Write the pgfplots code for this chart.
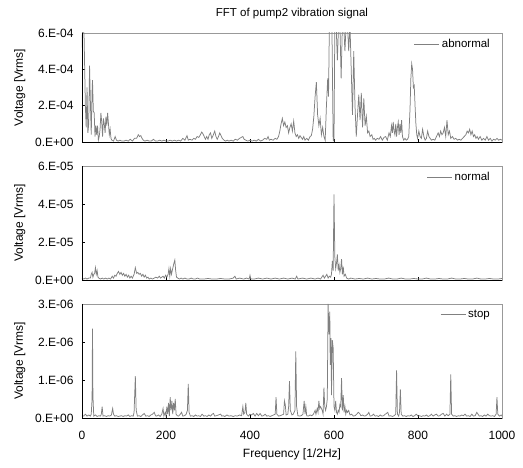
\documentclass[border=0pt]{standalone}
\usepackage{pgfplots}
\usepackage{pgfplotstable}
\pgfplotsset{compat=1.18}
\usepackage{fontspec}
\setmainfont{Liberation Sans}

\pgfplotstableread[row sep=\\]{
x y\\
0 5.2e-4\\ 2 6.8e-4\\ 5 5.8e-4\\ 8 2.0e-4\\ 10 0.8e-4\\ 12 3.0e-4\\ 14 0.5e-4\\ 16 1.0e-4\\ 18 4.2e-4\\ 20 2.2e-4\\
22 0.4e-4\\ 24 2.8e-4\\ 25 3.4e-4\\ 27 1.7e-4\\ 29 1.6e-4\\ 31 0.3e-4\\ 33 0.9e-4\\ 35 0.4e-4\\ 37 0.9e-4\\ 39 0.1e-4\\
41 0.3e-4\\ 43 0.7e-4\\ 45 1.6e-4\\ 47 1.1e-4\\ 49 0.3e-4\\ 51 1.3e-4\\ 53 1.0e-4\\ 55 0.5e-4\\ 57 1.4e-4\\ 59 0.9e-4\\
61 1.6e-4\\ 63 1.0e-4\\ 65 0.4e-4\\ 67 0.7e-4\\ 69 0.2e-4\\ 71 0.1e-4\\ 75 0.05e-4\\ 79 0.3e-4\\ 82 0.1e-4\\ 86 0.05e-4\\
90 0.1e-4\\ 95 0.05e-4\\ 100 0.05e-4\\ 105 0.1e-4\\ 110 0.05e-4\\ 115 0.15e-4\\ 120 0.05e-4\\ 125 0.2e-4\\ 130 0.2e-4\\ 134 0.4e-4\\
137 0.3e-4\\ 140 0.35e-4\\ 143 0.2e-4\\ 146 0.1e-4\\ 150 0.05e-4\\ 155 0.1e-4\\ 160 0.05e-4\\ 165 0.05e-4\\ 170 0.15e-4\\ 175 0.05e-4\\
180 0.05e-4\\ 185 0.1e-4\\ 190 0.05e-4\\ 195 0.1e-4\\ 200 0.05e-4\\ 205 0.05e-4\\ 210 0.1e-4\\ 215 0.05e-4\\ 220 0.1e-4\\ 225 0.05e-4\\
230 0.1e-4\\ 235 0.05e-4\\ 240 0.2e-4\\ 245 0.1e-4\\ 250 0.35e-4\\ 253 0.1e-4\\ 257 0.15e-4\\ 262 0.1e-4\\ 266 0.2e-4\\ 270 0.15e-4\\
274 0.3e-4\\ 278 0.25e-4\\ 282 0.4e-4\\ 285 0.55e-4\\ 288 0.45e-4\\ 291 0.3e-4\\ 294 0.15e-4\\ 297 0.3e-4\\ 300 0.15e-4\\ 303 0.4e-4\\
306 0.5e-4\\ 309 0.2e-4\\ 312 0.35e-4\\ 316 0.6e-4\\ 319 0.3e-4\\ 322 0.15e-4\\ 325 0.3e-4\\ 328 0.5e-4\\ 331 0.35e-4\\ 334 0.2e-4\\
338 0.1e-4\\ 342 0.05e-4\\ 346 0.1e-4\\ 350 0.05e-4\\ 355 0.1e-4\\ 360 0.05e-4\\ 365 0.15e-4\\ 370 0.1e-4\\ 375 0.2e-4\\ 379 0.25e-4\\
383 0.3e-4\\ 386 0.15e-4\\ 390 0.1e-4\\ 395 0.05e-4\\ 400 0.1e-4\\ 405 0.05e-4\\ 410 0.1e-4\\ 415 0.05e-4\\ 420 0.15e-4\\ 425 0.05e-4\\
430 0.1e-4\\ 435 0.2e-4\\ 440 0.15e-4\\ 443 0.3e-4\\ 446 0.1e-4\\ 450 0.15e-4\\ 455 0.1e-4\\ 460 0.2e-4\\ 464 0.15e-4\\ 468 0.3e-4\\
471 0.6e-4\\ 474 1.0e-4\\ 477 1.3e-4\\ 480 0.9e-4\\ 483 1.1e-4\\ 486 0.8e-4\\ 489 0.9e-4\\ 492 0.5e-4\\ 495 0.8e-4\\ 498 1.0e-4\\
501 0.6e-4\\ 504 1.15e-4\\ 507 0.5e-4\\ 510 0.3e-4\\ 513 0.4e-4\\ 516 0.2e-4\\ 519 0.35e-4\\ 522 0.25e-4\\ 525 0.15e-4\\ 528 0.3e-4\\
531 0.1e-4\\ 535 0.2e-4\\ 539 0.1e-4\\ 543 0.3e-4\\ 546 0.35e-4\\ 549 0.7e-4\\ 552 1.4e-4\\ 555 2.5e-4\\ 558 3.3e-4\\ 561 1.5e-4\\
564 0.9e-4\\ 567 1.3e-4\\ 570 0.4e-4\\ 573 0.8e-4\\ 576 0.3e-4\\ 579 0.1e-4\\ 582 2.0e-4\\ 585 3.5e-4\\ 587 2.5e-4\\ 589 6.5e-4\\
592 6.5e-4\\ 595 6.5e-4\\ 598 0.1e-4\\ 600 0.05e-4\\ 602 6.5e-4\\ 605 6.5e-4\\ 608 4.5e-4\\ 611 6.5e-4\\ 614 6.5e-4\\ 617 3.5e-4\\
620 6.5e-4\\ 623 6.5e-4\\ 626 5.0e-4\\ 629 6.5e-4\\ 632 6.5e-4\\ 635 5.0e-4\\ 638 6.5e-4\\ 641 4.0e-4\\ 644 1.5e-4\\ 647 5.0e-4\\
650 2.0e-4\\ 653 0.3e-4\\ 656 1.5e-4\\ 659 2.6e-4\\ 662 1.2e-4\\ 665 2.7e-4\\ 668 0.8e-4\\ 671 2.4e-4\\ 674 0.9e-4\\ 677 1.4e-4\\
680 0.5e-4\\ 683 0.6e-4\\ 686 0.3e-4\\ 690 0.4e-4\\ 693 0.15e-4\\ 696 0.2e-4\\ 699 0.1e-4\\ 703 0.2e-4\\ 707 0.15e-4\\ 711 0.3e-4\\
715 0.1e-4\\ 719 0.25e-4\\ 723 0.3e-4\\ 727 0.1e-4\\ 731 0.5e-4\\ 734 0.3e-4\\ 737 0.9e-4\\ 739 0.5e-4\\ 741 1.1e-4\\ 743 0.6e-4\\
745 0.4e-4\\ 747 1.0e-4\\ 749 0.3e-4\\ 751 0.8e-4\\ 753 1.1e-4\\ 755 0.4e-4\\ 757 1.0e-4\\ 759 0.5e-4\\ 761 1.2e-4\\ 763 0.3e-4\\
766 0.1e-4\\ 769 0.2e-4\\ 772 0.1e-4\\ 775 0.15e-4\\ 778 0.3e-4\\ 781 1.8e-4\\ 783 3.5e-4\\ 785 4.3e-4\\ 787 4.0e-4\\ 789 3.0e-4\\
791 3.1e-4\\ 793 2.0e-4\\ 795 1.0e-4\\ 797 0.4e-4\\ 799 0.2e-4\\ 802 0.6e-4\\ 805 0.3e-4\\ 808 0.2e-4\\ 811 0.7e-4\\ 814 0.3e-4\\
817 0.1e-4\\ 820 0.2e-4\\ 823 0.6e-4\\ 826 0.3e-4\\ 829 0.2e-4\\ 832 0.1e-4\\ 836 0.15e-4\\ 840 0.1e-4\\ 844 0.3e-4\\ 848 0.5e-4\\
851 0.3e-4\\ 854 0.6e-4\\ 857 0.4e-4\\ 860 0.5e-4\\ 863 0.8e-4\\ 866 0.3e-4\\ 869 1.2e-4\\ 872 0.4e-4\\ 875 0.6e-4\\ 878 0.2e-4\\
882 0.3e-4\\ 886 0.15e-4\\ 890 0.2e-4\\ 894 0.1e-4\\ 898 0.15e-4\\ 902 0.1e-4\\ 906 0.2e-4\\ 910 0.3e-4\\ 914 0.4e-4\\ 917 0.6e-4\\
920 0.5e-4\\ 923 0.7e-4\\ 926 0.4e-4\\ 929 0.6e-4\\ 932 0.3e-4\\ 935 0.4e-4\\ 938 0.2e-4\\ 941 0.3e-4\\ 944 0.15e-4\\ 948 0.3e-4\\
952 0.1e-4\\ 956 0.2e-4\\ 960 0.1e-4\\ 964 0.3e-4\\ 968 0.1e-4\\ 972 0.2e-4\\ 976 0.05e-4\\ 980 0.15e-4\\ 984 0.1e-4\\ 988 0.2e-4\\
992 0.1e-4\\ 996 0.15e-4\\ 1000 0.1e-4\\
}\abnormal

\pgfplotstableread[row sep=\\]{
x y\\
0 0.1e-5\\ 4 0.05e-5\\ 8 0.1e-5\\ 12 0.05e-5\\ 16 0.1e-5\\ 20 0.1e-5\\ 22 0.3e-5\\ 24 0.4e-5\\ 26 0.15e-5\\ 28 0.3e-5\\
30 0.35e-5\\ 32 0.65e-5\\ 34 0.3e-5\\ 36 0.5e-5\\ 38 0.15e-5\\ 40 0.1e-5\\ 44 0.05e-5\\ 48 0.1e-5\\ 52 0.05e-5\\ 56 0.1e-5\\
60 0.05e-5\\ 64 0.1e-5\\ 68 0.05e-5\\ 72 0.2e-5\\ 75 0.1e-5\\ 78 0.25e-5\\ 81 0.2e-5\\ 84 0.35e-5\\ 87 0.45e-5\\ 90 0.3e-5\\
93 0.4e-5\\ 96 0.25e-5\\ 99 0.35e-5\\ 102 0.2e-5\\ 105 0.3e-5\\ 108 0.15e-5\\ 111 0.25e-5\\ 114 0.1e-5\\ 117 0.2e-5\\ 120 0.1e-5\\
124 0.3e-5\\ 127 0.65e-5\\ 130 0.35e-5\\ 133 0.4e-5\\ 136 0.3e-5\\ 139 0.35e-5\\ 142 0.2e-5\\ 145 0.3e-5\\ 148 0.15e-5\\ 151 0.25e-5\\
154 0.1e-5\\ 157 0.15e-5\\ 160 0.05e-5\\ 164 0.1e-5\\ 168 0.05e-5\\ 172 0.1e-5\\ 176 0.15e-5\\ 180 0.1e-5\\ 184 0.2e-5\\ 187 0.1e-5\\
190 0.15e-5\\ 193 0.2e-5\\ 196 0.1e-5\\ 199 0.25e-5\\ 202 0.15e-5\\ 205 0.3e-5\\ 207 0.6e-5\\ 209 0.2e-5\\ 211 0.6e-5\\ 213 0.3e-5\\
215 0.5e-5\\ 217 0.7e-5\\ 219 0.9e-5\\ 221 1.05e-5\\ 223 0.5e-5\\ 225 0.15e-5\\ 228 0.1e-5\\ 232 0.05e-5\\ 236 0.1e-5\\ 240 0.05e-5\\
245 0.1e-5\\ 250 0.05e-5\\ 255 0.05e-5\\ 260 0.1e-5\\ 265 0.05e-5\\ 270 0.05e-5\\ 275 0.1e-5\\ 280 0.05e-5\\ 290 0.05e-5\\ 300 0.08e-5\\
310 0.05e-5\\ 320 0.05e-5\\ 330 0.08e-5\\ 340 0.05e-5\\ 350 0.05e-5\\ 360 0.1e-5\\ 364 0.2e-5\\ 367 0.05e-5\\ 375 0.1e-5\\ 385 0.05e-5\\
392 0.1e-5\\ 398 0.05e-5\\ 400 0.25e-5\\ 402 0.05e-5\\ 410 0.05e-5\\ 420 0.1e-5\\ 430 0.05e-5\\ 440 0.1e-5\\ 450 0.05e-5\\ 460 0.1e-5\\
470 0.05e-5\\ 480 0.1e-5\\ 490 0.05e-5\\ 500 0.1e-5\\ 508 0.05e-5\\ 511 0.2e-5\\ 514 0.05e-5\\ 525 0.1e-5\\ 535 0.05e-5\\ 545 0.1e-5\\
555 0.05e-5\\ 562 0.1e-5\\ 568 0.05e-5\\ 574 0.25e-5\\ 577 0.1e-5\\ 580 0.2e-5\\ 583 0.3e-5\\ 586 0.1e-5\\ 589 0.2e-5\\ 592 0.15e-5\\
594 0.3e-5\\ 596 1.0e-5\\ 598 0.5e-5\\ 600 4.5e-5\\ 602 1.2e-5\\ 604 0.6e-5\\ 606 0.9e-5\\ 608 1.35e-5\\ 610 0.5e-5\\ 612 0.8e-5\\
614 0.4e-5\\ 616 0.6e-5\\ 618 1.1e-5\\ 620 0.3e-5\\ 622 0.7e-5\\ 624 0.2e-5\\ 627 0.3e-5\\ 630 0.1e-5\\ 635 0.05e-5\\ 640 0.1e-5\\
650 0.05e-5\\ 660 0.08e-5\\ 670 0.05e-5\\ 680 0.1e-5\\ 690 0.05e-5\\ 700 0.08e-5\\ 710 0.05e-5\\ 720 0.05e-5\\ 730 0.1e-5\\ 740 0.05e-5\\
750 0.05e-5\\ 760 0.1e-5\\ 770 0.05e-5\\ 780 0.05e-5\\ 790 0.08e-5\\ 800 0.05e-5\\ 810 0.05e-5\\ 820 0.1e-5\\ 830 0.05e-5\\ 840 0.05e-5\\
850 0.08e-5\\ 860 0.05e-5\\ 870 0.05e-5\\ 880 0.1e-5\\ 890 0.05e-5\\ 900 0.05e-5\\ 910 0.08e-5\\ 920 0.05e-5\\ 930 0.05e-5\\ 940 0.1e-5\\
950 0.05e-5\\ 960 0.05e-5\\ 970 0.08e-5\\ 980 0.05e-5\\ 990 0.05e-5\\ 1000 0.08e-5\\
}\normal

\pgfplotstableread[row sep=\\]{
x y\\
0 0.05e-6\\ 4 0.05e-6\\ 8 0.1e-6\\ 12 0.05e-6\\ 16 0.08e-6\\ 20 0.05e-6\\ 22 0.1e-6\\ 24 0.5e-6\\ 25 2.35e-6\\ 26 0.6e-6\\
28 0.05e-6\\ 32 0.08e-6\\ 36 0.04e-6\\ 40 0.06e-6\\ 44 0.05e-6\\ 46 0.1e-6\\ 48 0.3e-6\\ 50 0.05e-6\\ 54 0.06e-6\\ 58 0.04e-6\\
62 0.06e-6\\ 66 0.05e-6\\ 70 0.08e-6\\ 73 0.25e-6\\ 75 0.1e-6\\ 78 0.05e-6\\ 82 0.06e-6\\ 86 0.04e-6\\ 90 0.05e-6\\ 94 0.06e-6\\
98 0.04e-6\\ 102 0.06e-6\\ 106 0.05e-6\\ 110 0.08e-6\\ 114 0.04e-6\\ 118 0.06e-6\\ 122 0.05e-6\\ 124 0.15e-6\\ 127 1.1e-6\\ 129 0.2e-6\\
132 0.05e-6\\ 136 0.06e-6\\ 140 0.04e-6\\ 144 0.08e-6\\ 148 0.12e-6\\ 152 0.05e-6\\ 156 0.06e-6\\ 160 0.04e-6\\ 164 0.08e-6\\ 168 0.1e-6\\
172 0.15e-6\\ 175 0.06e-6\\ 178 0.05e-6\\ 182 0.08e-6\\ 186 0.04e-6\\ 190 0.1e-6\\ 193 0.25e-6\\ 195 0.05e-6\\ 198 0.15e-6\\ 200 0.05e-6\\
202 0.3e-6\\ 204 0.1e-6\\ 206 0.4e-6\\ 208 0.05e-6\\ 210 0.55e-6\\ 212 0.2e-6\\ 214 0.45e-6\\ 216 0.1e-6\\ 218 0.4e-6\\ 220 0.2e-6\\
222 0.5e-6\\ 224 0.1e-6\\ 227 0.06e-6\\ 230 0.05e-6\\ 234 0.1e-6\\ 237 0.15e-6\\ 240 0.05e-6\\ 244 0.06e-6\\ 248 0.1e-6\\ 251 0.2e-6\\
253 0.9e-6\\ 255 0.15e-6\\ 258 0.05e-6\\ 262 0.06e-6\\ 266 0.04e-6\\ 270 0.08e-6\\ 274 0.05e-6\\ 278 0.06e-6\\ 282 0.04e-6\\ 286 0.1e-6\\
290 0.05e-6\\ 294 0.06e-6\\ 298 0.04e-6\\ 302 0.08e-6\\ 306 0.05e-6\\ 310 0.1e-6\\ 313 0.12e-6\\ 316 0.05e-6\\ 320 0.06e-6\\ 325 0.08e-6\\
330 0.1e-6\\ 333 0.05e-6\\ 336 0.06e-6\\ 340 0.04e-6\\ 345 0.08e-6\\ 350 0.05e-6\\ 355 0.06e-6\\ 360 0.04e-6\\ 365 0.06e-6\\ 370 0.05e-6\\
375 0.08e-6\\ 380 0.06e-6\\ 383 0.3e-6\\ 385 0.1e-6\\ 388 0.15e-6\\ 390 0.4e-6\\ 392 0.1e-6\\ 396 0.05e-6\\ 400 0.1e-6\\ 404 0.08e-6\\
408 0.12e-6\\ 412 0.05e-6\\ 416 0.12e-6\\ 420 0.06e-6\\ 424 0.12e-6\\ 428 0.05e-6\\ 432 0.06e-6\\ 436 0.1e-6\\ 440 0.05e-6\\ 444 0.06e-6\\
448 0.04e-6\\ 452 0.06e-6\\ 456 0.08e-6\\ 460 0.1e-6\\ 462 0.55e-6\\ 464 0.1e-6\\ 468 0.05e-6\\ 472 0.06e-6\\ 476 0.08e-6\\ 480 0.1e-6\\
482 0.45e-6\\ 484 0.35e-6\\ 486 0.08e-6\\ 490 0.1e-6\\ 492 0.3e-6\\ 494 0.97e-6\\ 496 0.2e-6\\ 500 0.08e-6\\ 503 0.1e-6\\ 507 0.2e-6\\
509 1.75e-6\\ 511 0.3e-6\\ 514 0.06e-6\\ 518 0.05e-6\\ 522 0.06e-6\\ 526 0.1e-6\\ 529 0.45e-6\\ 531 0.1e-6\\ 533 0.3e-6\\ 535 0.06e-6\\
539 0.05e-6\\ 543 0.08e-6\\ 547 0.06e-6\\ 551 0.1e-6\\ 555 0.2e-6\\ 557 0.1e-6\\ 560 0.25e-6\\ 562 0.15e-6\\ 564 0.45e-6\\ 566 0.25e-6\\
568 0.3e-6\\ 570 0.25e-6\\ 572 0.2e-6\\ 574 0.1e-6\\ 576 0.8e-6\\ 578 0.3e-6\\ 580 0.2e-6\\ 582 0.3e-6\\ 584 0.5e-6\\ 586 3.0e-6\\
588 2.2e-6\\ 590 2.8e-6\\ 591 1.4e-6\\ 593 2.1e-6\\ 594 0.6e-6\\ 596 2.05e-6\\ 598 1.85e-6\\ 600 0.3e-6\\ 602 0.2e-6\\ 604 0.45e-6\\
606 0.15e-6\\ 608 0.1e-6\\ 610 0.2e-6\\ 612 0.15e-6\\ 614 0.35e-6\\ 616 0.3e-6\\ 618 1.05e-6\\ 620 0.2e-6\\ 622 0.6e-6\\ 624 0.15e-6\\
626 0.3e-6\\ 628 0.1e-6\\ 630 0.2e-6\\ 632 0.15e-6\\ 635 0.2e-6\\ 638 0.08e-6\\ 642 0.1e-6\\ 646 0.05e-6\\ 650 0.06e-6\\ 654 0.1e-6\\
658 0.15e-6\\ 661 0.12e-6\\ 664 0.06e-6\\ 668 0.08e-6\\ 672 0.05e-6\\ 676 0.06e-6\\ 680 0.1e-6\\ 683 0.15e-6\\ 686 0.05e-6\\ 690 0.06e-6\\
694 0.1e-6\\ 698 0.05e-6\\ 702 0.06e-6\\ 706 0.04e-6\\ 710 0.08e-6\\ 714 0.05e-6\\ 718 0.06e-6\\ 722 0.1e-6\\ 725 0.12e-6\\ 728 0.15e-6\\
731 0.05e-6\\ 735 0.06e-6\\ 739 0.04e-6\\ 743 0.06e-6\\ 747 0.1e-6\\ 749 1.25e-6\\ 751 0.1e-6\\ 754 0.05e-6\\ 756 0.15e-6\\ 758 0.75e-6\\
760 0.1e-6\\ 764 0.05e-6\\ 768 0.06e-6\\ 772 0.04e-6\\ 776 0.06e-6\\ 780 0.05e-6\\ 784 0.08e-6\\ 788 0.04e-6\\ 792 0.06e-6\\ 796 0.1e-6\\
800 0.05e-6\\ 804 0.06e-6\\ 808 0.04e-6\\ 812 0.06e-6\\ 816 0.05e-6\\ 820 0.08e-6\\ 824 0.04e-6\\ 828 0.06e-6\\ 832 0.1e-6\\ 836 0.05e-6\\
840 0.08e-6\\ 844 0.1e-6\\ 848 0.05e-6\\ 852 0.06e-6\\ 856 0.1e-6\\ 860 0.12e-6\\ 864 0.05e-6\\ 868 0.1e-6\\ 872 0.06e-6\\ 876 0.1e-6\\
878 1.15e-6\\ 880 0.1e-6\\ 884 0.05e-6\\ 888 0.06e-6\\ 892 0.04e-6\\ 896 0.06e-6\\ 900 0.05e-6\\ 904 0.08e-6\\ 908 0.06e-6\\ 912 0.1e-6\\
916 0.05e-6\\ 920 0.06e-6\\ 924 0.04e-6\\ 928 0.1e-6\\ 932 0.05e-6\\ 936 0.06e-6\\ 940 0.15e-6\\ 943 0.1e-6\\ 946 0.05e-6\\ 950 0.06e-6\\
954 0.04e-6\\ 958 0.08e-6\\ 962 0.05e-6\\ 966 0.1e-6\\ 970 0.06e-6\\ 974 0.05e-6\\ 978 0.06e-6\\ 982 0.04e-6\\ 986 0.1e-6\\ 988 0.55e-6\\
990 0.1e-6\\ 994 0.05e-6\\ 998 0.08e-6\\ 1000 0.05e-6\\
}\stopdata

\pgfplotsset{
  panel/.style={
    scale only axis, width=420pt,
    xmin=0, xmax=1000, ymin=0,
    xtick={0,200,400,600,800,1000},
    xtick pos=bottom, ytick pos=left,
    tick align=inside, major tick length=3pt,
    tick style={black, line width=0.5pt},
    axis line style={draw=black!40, line width=0.6pt},
    scaled y ticks=false, scaled x ticks=false,
    clip mode=individual,
    yticklabel style={font=\fontsize{12}{14}\selectfont, xshift=-5pt},
    xticklabel style={font=\fontsize{12}{14}\selectfont, yshift=-10pt},
    ylabel={Voltage [Vrms]},
    ylabel style={at={(axis description cs:-0.148,0.5)}, anchor=center, font=\fontsize{12}{14}\selectfont},
    legend style={draw=none, fill=none, font=\fontsize{11.5}{13}\selectfont,
      at={(1,1)}, anchor=north east, xshift=-10pt, yshift=-4pt, inner sep=0pt},
    legend image code/.code={\draw[#1] (0pt,0pt) -- (25pt,0pt);},
  },
  sig/.style={color=black!50, line width=0.75pt},
}

\begin{document}
\begin{tikzpicture}[x=1pt,y=1pt]
\useasboundingbox (0,0) rectangle (523,468);

\begin{axis}[panel, at={(82pt,326pt)}, anchor=south west, height=109pt,
  ymax=6e-4, ytick={0,2e-4,4e-4,6e-4},
  yticklabels={0.E+00,2.E-04,4.E-04,6.E-04}, xticklabels={},
  title={FFT of pump2 vibration signal},
  title style={at={(0.5,1)}, anchor=base, yshift=10pt, font=\fontsize{11.5}{13}\selectfont}]
\addplot[sig] table[x=x,y=y] {\abnormal};
\addlegendentry{abnormal}
\draw[black, line width=0.7pt] (rel axis cs:0,1) -- (rel axis cs:0,0) -- (rel axis cs:1,0);
\end{axis}

\begin{axis}[panel, at={(82pt,188pt)}, anchor=south west, height=114pt,
  ymax=6e-5, ytick={0,2e-5,4e-5,6e-5},
  yticklabels={0.E+00,2.E-05,4.E-05,6.E-05}, xticklabels={}]
\addplot[sig] table[x=x,y=y] {\normal};
\addlegendentry{normal}
\draw[black, line width=0.7pt] (rel axis cs:0,1) -- (rel axis cs:0,0) -- (rel axis cs:1,0);
\end{axis}

\begin{axis}[panel, at={(82pt,50pt)}, anchor=south west, height=114pt,
  ymax=3e-6, ytick={0,1e-6,2e-6,3e-6},
  yticklabels={0.E+00,1.E-06,2.E-06,3.E-06},
  xticklabels={0,200,400,600,800,1000},
  xlabel={Frequency [1/2Hz]},
  xlabel style={at={(axis description cs:0.5,0)}, anchor=center, yshift=-36pt, font=\fontsize{12}{14}\selectfont}]
\addplot[sig] table[x=x,y=y] {\stopdata};
\addlegendentry{stop}
\draw[black, line width=0.7pt] (rel axis cs:0,1) -- (rel axis cs:0,0) -- (rel axis cs:1,0);
\end{axis}
\end{tikzpicture}
\end{document}
